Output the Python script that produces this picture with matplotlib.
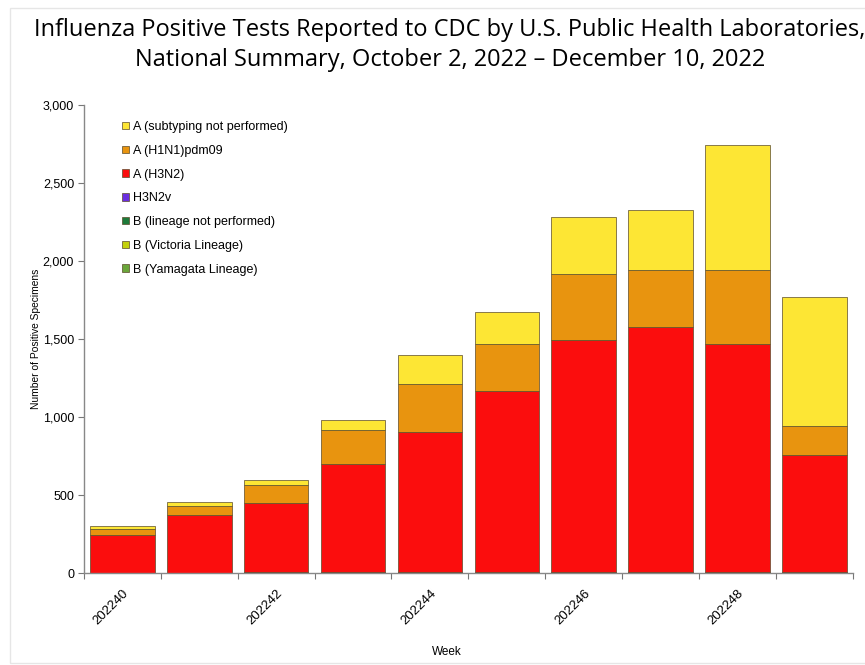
import numpy as np
import matplotlib
matplotlib.use('Agg')
import matplotlib.pyplot as plt
from matplotlib.patches import Rectangle


# DONNEES

weeks = ['202240', '202241', '202242', '202243', '202244',
         '202245', '202246', '202247', '202248', '202249']

b_yamagata = [0, 0, 0, 0, 0, 0, 0, 0, 0, 0]
b_victoria = [1, 1, 2, 2, 3, 3, 4, 4, 3, 3]
b_not_perf = [2, 3, 3, 4, 5, 6, 7, 7, 6, 5]
h3n2v = [0, 0, 0, 0, 0, 0, 0, 0, 0, 0]
h3n2 = [242, 368, 446, 692, 895, 1160, 1486, 1565, 1462, 750]
h1n1 = [38, 62, 112, 220, 309, 300, 422, 364, 474, 188]
a_unsub = [21, 23, 36, 62, 188, 205, 364, 386, 800, 825]

series = [
    ('B (Yamagata Lineage)', b_yamagata, '#6aa63a'),
    ('B (Victoria Lineage)', b_victoria, '#c4d10a'),
    ('B (lineage not performed)', b_not_perf, '#1d7a3a'),
    ('H3N2v', h3n2v, '#6a2ee0'),
    ('A (H3N2)', h3n2, '#fb0d0d'),
    ('A (H1N1)pdm09', h1n1, '#e8940f'),
    ('A (subtyping not performed)', a_unsub, '#fde634'),
]

label_weeks = ['202240', '202242', '202244', '202246', '202248']

# FIGURE

plt.rcParams['font.family'] = ['Liberation Sans', 'DejaVu Sans']

fig = plt.figure(figsize=(8.65, 6.65), dpi=100)
fig.patch.set_facecolor('white')
fig.patches.append(Rectangle((0.012, 0.003), 0.99, 0.985, transform=fig.transFigure,
                             fill=False, edgecolor='#e6e6e6', linewidth=1.0))

ax = fig.add_axes([0.097, 0.138, 0.889, 0.704])

x = np.arange(len(weeks))
bottom = np.zeros(len(weeks))
handles = {}
for nom, vals, col in series:
    vals = np.array(vals, dtype=float)
    h = ax.bar(x, vals, 0.84, bottom=bottom, color=col,
               edgecolor='#5a4a2a', linewidth=0.5, label=nom)
    handles[nom] = h
    bottom += vals

ax.set_xlim(-0.5, len(weeks) - 0.5)
ax.set_ylim(0, 3000)
ax.set_yticks(np.arange(0, 3001, 500))
ax.set_yticklabels(['{:,}'.format(v) for v in range(0, 3001, 500)], fontsize=9)

# ticks aux frontieres, etiquettes au centre
ax.set_xticks(np.arange(-0.5, len(weeks), 1.0))
ax.set_xticklabels([])
ax.set_xticks([weeks.index(w) for w in label_weeks], minor=True)
ax.set_xticklabels(label_weeks, minor=True, rotation=45, fontsize=9.5,
                   ha='right', rotation_mode='anchor')
ax.tick_params(axis='x', which='minor', length=0, pad=10)
ax.tick_params(axis='x', which='major', length=4, direction='out', color='#777777')
ax.tick_params(axis='y', length=4, direction='out', color='#777777', pad=3)

for s in ['top', 'right']:
    ax.spines[s].set_visible(False)
for s in ['left', 'bottom']:
    ax.spines[s].set_color('#888888')
    ax.spines[s].set_linewidth(1.0)

ax.set_ylabel('Number of Positive Specimens', fontsize=7.4, labelpad=1)
ax.set_xlabel('Week', fontsize=8.5, labelpad=14)
ax.xaxis.set_label_coords(0.472, -0.155)

order = ['A (subtyping not performed)', 'A (H1N1)pdm09', 'A (H3N2)', 'H3N2v',
         'B (lineage not performed)', 'B (Victoria Lineage)', 'B (Yamagata Lineage)']
leg = ax.legend([handles[n] for n in order], order, loc='upper left',
                bbox_to_anchor=(0.035, 0.99), frameon=False, fontsize=9,
                handlelength=0.55, handleheight=0.55, handletextpad=0.3,
                labelspacing=0.94)

fig.text(0.52, 0.955, 'Influenza Positive Tests Reported to CDC by U.S. Public Health Laboratories,',
         ha='center', va='center', fontsize=17, family=['Open Sans', 'DejaVu Sans'])
fig.text(0.52, 0.91, 'National Summary, October 2, 2022 \u2013 December 10, 2022',
         ha='center', va='center', fontsize=17, family=['Open Sans', 'DejaVu Sans'])

fig.savefig('out.png', dpi=100)
